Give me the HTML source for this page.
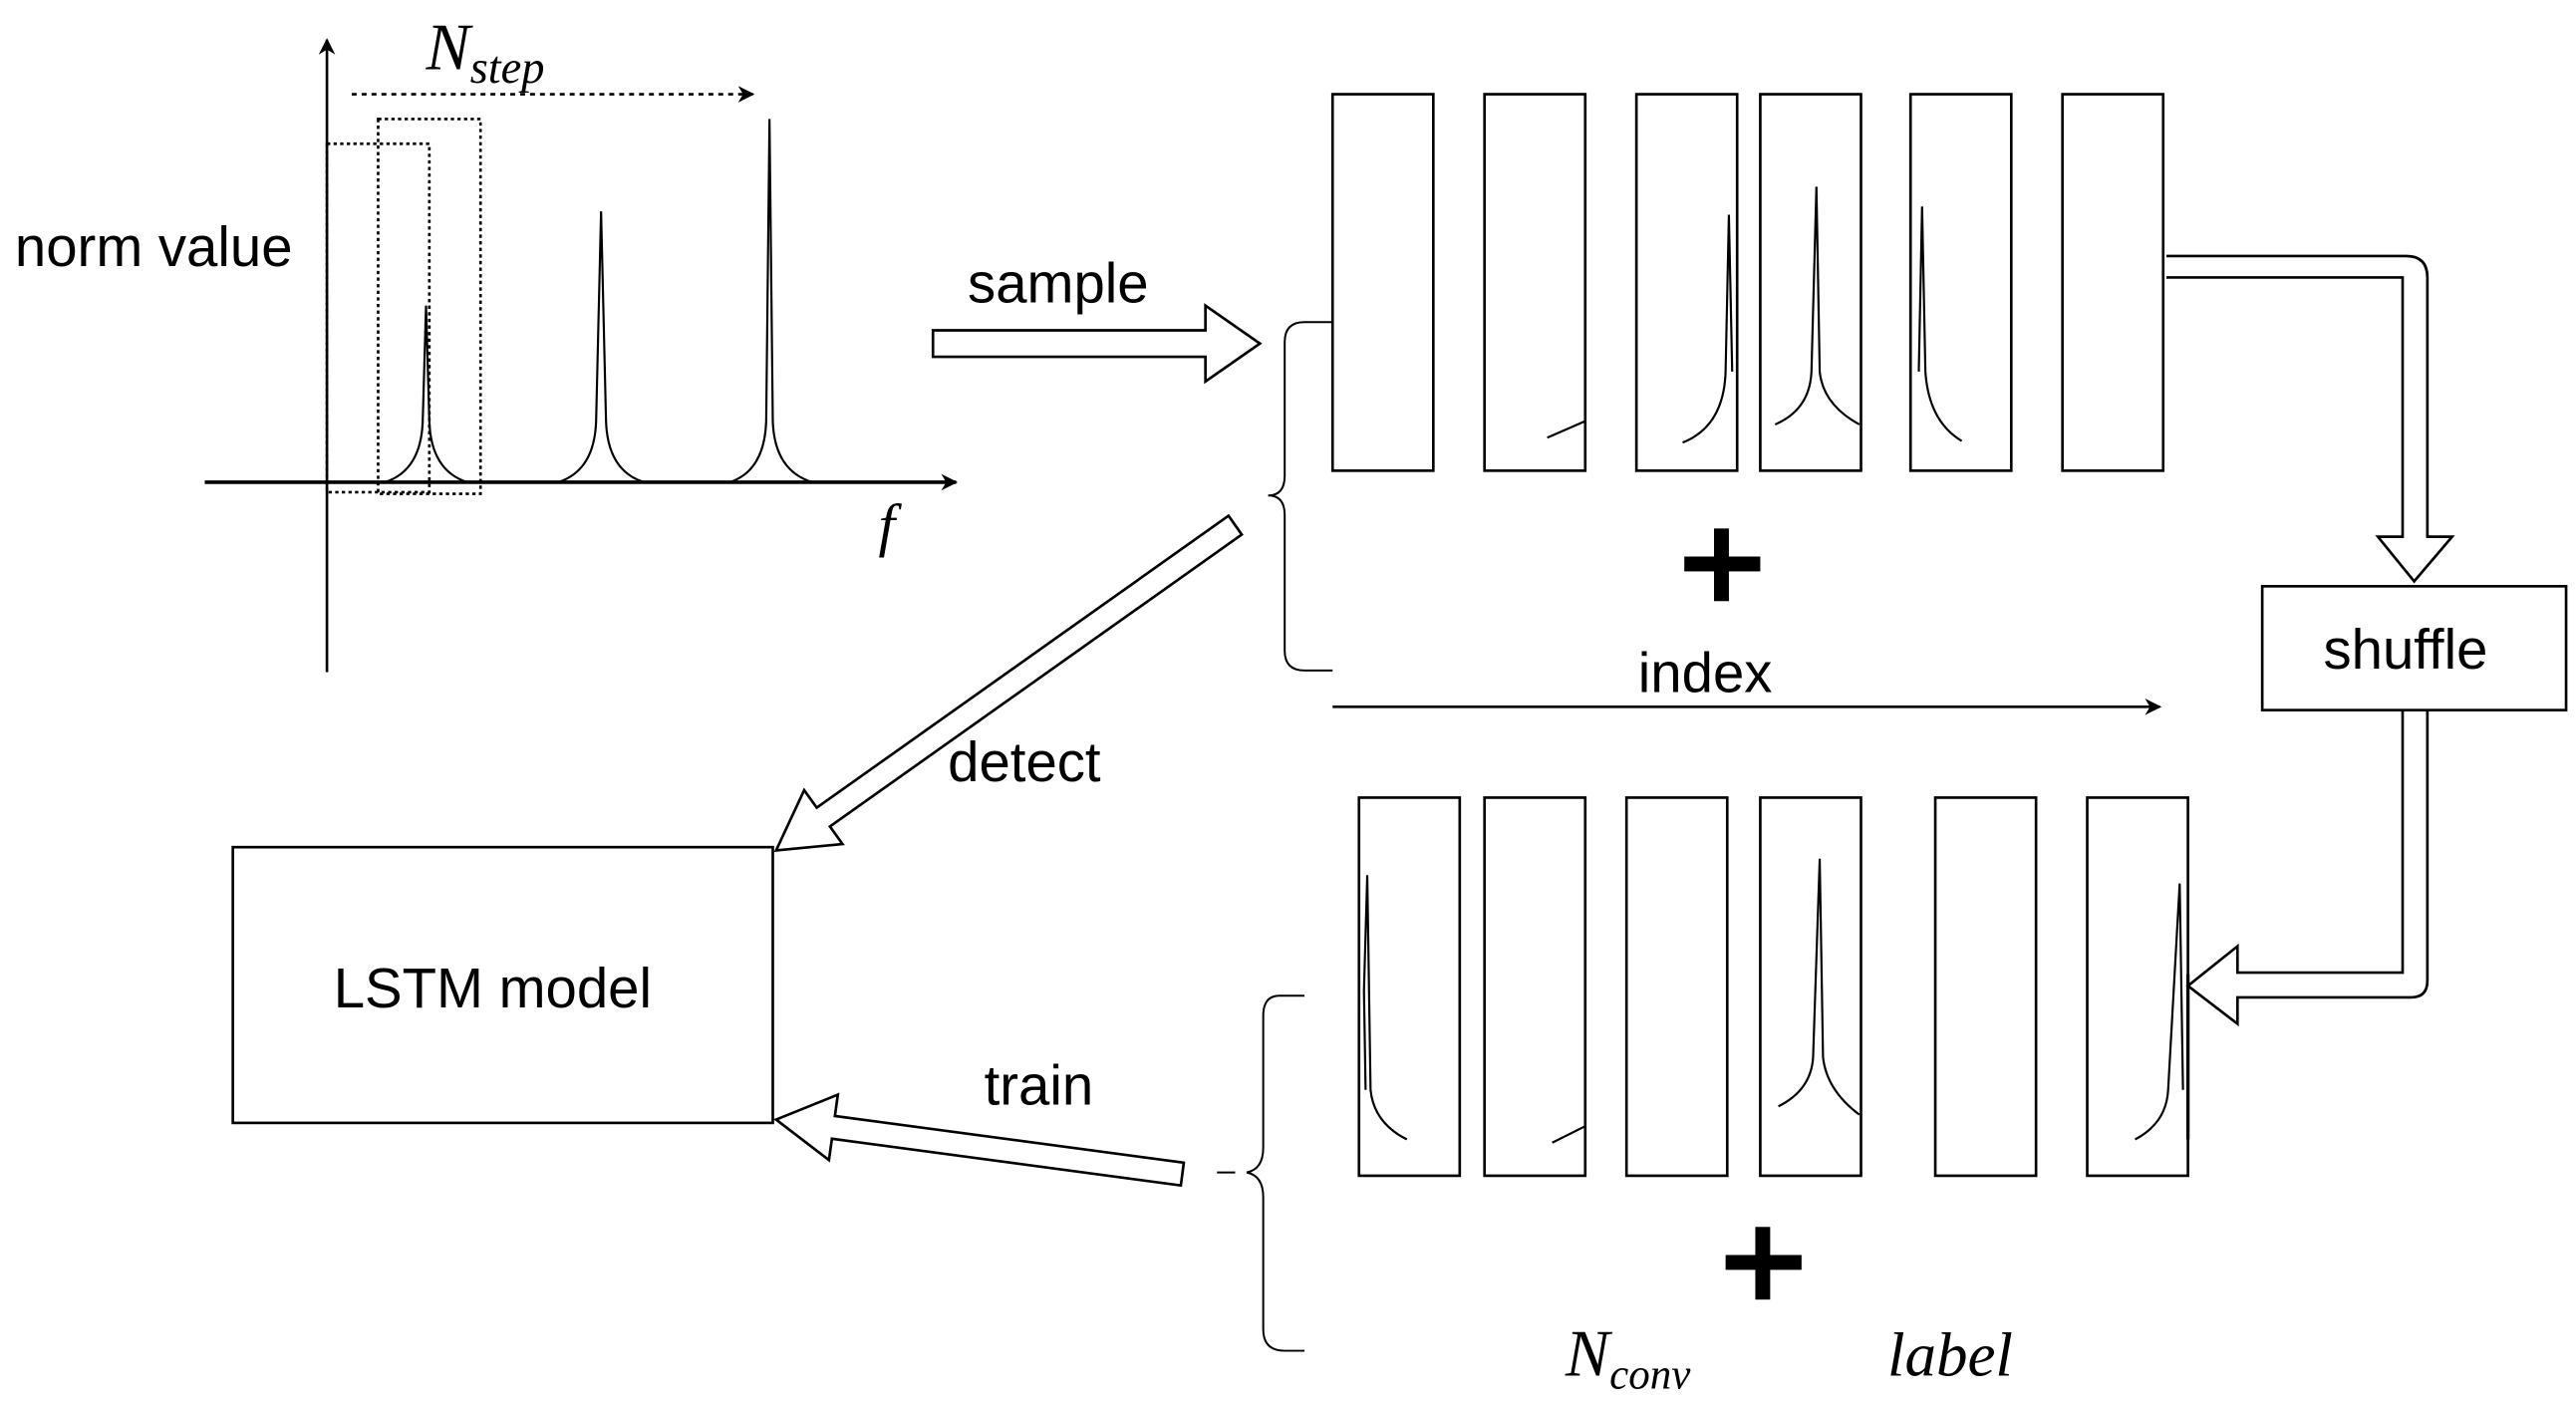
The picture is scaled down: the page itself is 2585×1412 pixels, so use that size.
<!DOCTYPE html>
<html><head><style>html,body{margin:0;padding:0;background:#fff;}svg{display:block}</style></head>
<body>
<svg width="2585" height="1412" viewBox="0 0 1560 852" xmlns="http://www.w3.org/2000/svg" font-family="Liberation Sans, sans-serif">
<defs>
<marker id="ah" markerWidth="10" markerHeight="10" refX="9" refY="5" orient="auto" markerUnits="userSpaceOnUse"><path d="M0,0 L10,5 L0,10 L3,5 Z" fill="#000"/></marker>
</defs>
<g fill="none" stroke="#000" stroke-width="1.6">
<line x1="198" y1="407" x2="198" y2="24" marker-end="url(#ah)"/>
<line x1="124" y1="292" x2="579" y2="292" stroke-width="2.2" marker-end="url(#ah)"/>
<line x1="213" y1="57" x2="456" y2="57" stroke-dasharray="3,3" marker-end="url(#ah)"/>
<rect x="198" y="87" width="62" height="211" stroke-dasharray="2,2"/>
<rect x="229" y="72" width="62" height="227" stroke-dasharray="2,2"/>
<path d="M233,292 Q255,285 256,255 L258,185 L260,255 Q261,285 283,292" stroke-width="1.3"/>
<path d="M338,292 Q360,285 361,255 L364,128 L367,255 Q368,285 390,292" stroke-width="1.3"/>
<path d="M442,292 Q463,285 464,255 L466,72 L468,255 Q469,285 492,292" stroke-width="1.3"/>
<rect x="807" y="57" width="61" height="228"/>
<rect x="899" y="57" width="61" height="228"/>
<rect x="991" y="57" width="61" height="228"/>
<rect x="1066" y="57" width="61" height="228"/>
<rect x="1157" y="57" width="61" height="228"/>
<rect x="1249" y="57" width="61" height="228"/>
<path d="M937,265 L960,255" stroke-width="1.3"/>
<path d="M1019,268 Q1044,258 1045,225 L1047,130 L1049,225" stroke-width="1.3"/>
<path d="M1075,257 Q1096,248 1097,225 L1100,113 L1102,225 Q1104,245 1126,257" stroke-width="1.3"/>
<path d="M1162,225 L1164,125 L1166,225 Q1168,255 1188,267" stroke-width="1.3"/>
<path d="M807,195 L790,195 Q778,195 778,207 L778,288 Q778,300 768,300 Q778,300 778,312 L778,394 Q778,406 790,406 L807,406" stroke-width="1.2"/>
<line x1="807" y1="428" x2="1308" y2="428" marker-end="url(#ah)"/>
<path d="M1312,155 L1457,155 Q1470,155 1470,168 L1470,325 L1485,325 L1462,352 L1440,325 L1455,325 L1455,168 L1312,168"/>
<rect x="1370" y="355" width="184" height="75"/>
<path d="M1455,430 L1455,589 L1355,589 L1355,573 L1325,597 L1355,620 L1355,604 L1460,604 Q1470,604 1470,594 L1470,430"/>
<rect x="823" y="483" width="61" height="229"/>
<rect x="899" y="483" width="61" height="229"/>
<rect x="985" y="483" width="61" height="229"/>
<rect x="1066" y="483" width="61" height="229"/>
<rect x="1172" y="483" width="61" height="229"/>
<rect x="1264" y="483" width="61" height="229"/>
<path d="M827,660 L826,600 L828,530 L830,660 Q832,680 852,690" stroke-width="1.3"/>
<path d="M940,692 L960,682" stroke-width="1.3"/>
<path d="M1077,670 Q1097,660 1098,640 L1102,520 L1104,640 Q1106,660 1126,675" stroke-width="1.3"/>
<path d="M1293,690 Q1312,680 1313,660 L1320,535 L1322,660" stroke-width="1.3"/>
<line x1="1325" y1="590" x2="1325" y2="690" stroke-width="2"/>
<path d="M790,603 L775,603 Q765,603 765,615 L765,695 Q765,708 755,710 Q765,712 765,725 L765,805 Q765,818 778,818 L790,818" stroke-width="1.2"/>
<line x1="737" y1="710" x2="748" y2="710" stroke-width="1.2"/>
<rect x="141" y="513" width="327" height="167"/>
<polygon points="744,312.3 494.6,489.1 487,478.5 470,515 510.2,511.1 502.6,500.5 752,323.7"/>
<polygon points="716.9,704.1 505.6,675.8 507.4,662.9 470,678 502,702.5 503.8,689.6 715.1,717.9"/>
<polygon points="565,200 730,200 730,185 763,208 730,231 730,216 565,216"/>
</g>
<g fill="#000">
<rect x="1038" y="320" width="9" height="44"/><rect x="1020" y="337" width="46" height="9"/>
<rect x="1063" y="743" width="9" height="44"/><rect x="1045" y="760" width="46" height="9"/>
</g>
<g fill="#000" font-size="34">
<text x="9" y="161">norm value</text>
<text x="586" y="183">sample</text>
<text x="992" y="419">index</text>
<text x="1407" y="405">shuffle</text>
<text x="574" y="473">detect</text>
<text x="596" y="669">train</text>
<text x="202" y="610">LSTM model</text>
</g>
<g fill="#000" font-family="Liberation Serif, serif" font-style="italic">
<text x="258" y="42" font-size="40">N<tspan font-size="28" dy="8">step</tspan></text>
<text x="532" y="330" font-size="36">f</text>
<text x="948" y="833" font-size="40">N<tspan font-size="26" dy="8">conv</tspan></text>
<text x="1143" y="833" font-size="38">label</text>
</g>
</svg>
</body></html>
